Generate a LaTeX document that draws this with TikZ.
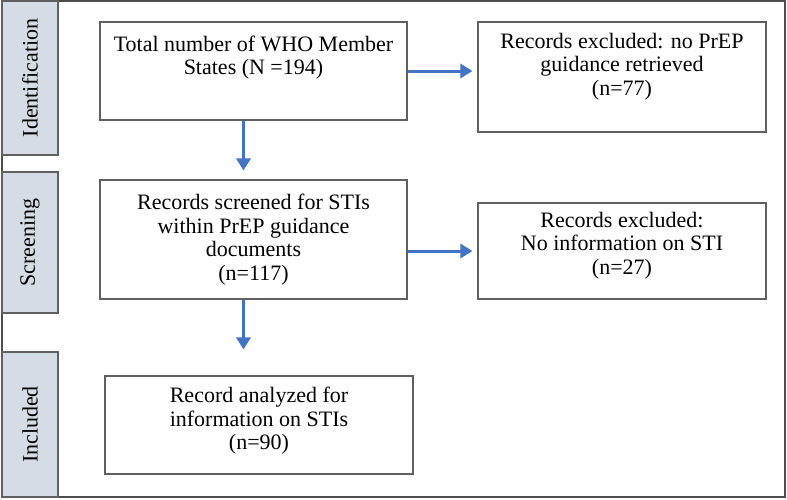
\documentclass[tikz,border=0pt]{standalone}
\usepackage{fontspec}
\setmainfont{Liberation Serif}
\usetikzlibrary{arrows.meta}
\definecolor{arrblue}{HTML}{4472C4}
\definecolor{sidefill}{HTML}{D6DCE5}
\definecolor{edgegray}{HTML}{606060}
\tikzset{
  box/.style={draw=edgegray, line width=1.1pt, align=center, inner sep=2pt,
    font=\fontsize{22}{23.5}\selectfont},
  phase/.style={draw=edgegray, fill=sidefill, line width=1.1pt, rotate=90,
    minimum height=56pt, inner sep=0pt, font=\fontsize{22}{23.5}\selectfont},
  arr/.style={arrblue, line width=3pt, -{Triangle[length=12pt,width=14pt]}}
}
\begin{document}
\begin{tikzpicture}[x=1pt,y=-1pt]
	\useasboundingbox (0,0) rectangle (787,499);
	\draw[edgegray!80!black, line width=2pt] (2,1) rectangle (785,497);
	% phases on the left
	\node[phase, minimum width=154pt] (ident) at (30,78) {Identification};
	\node[phase, minimum width=141pt] (screen) at (30,242.5) {Screening};
	\node[phase, minimum width=145pt] (incl) at (30,424.5) {Included};
	% boxes
	\node[box, minimum width=307pt, minimum height=98pt] (total) at (253.5,71)
		{Total number of WHO Member\\States (N =194)\\[8pt]\mbox{}};
	\node[box, minimum width=288pt, minimum height=110pt] (excl1) at (622,77)
		{Records excluded: no PrEP\\guidance retrieved\\(n=77)\\[2pt]\mbox{}};
	\node[box, minimum width=307pt, minimum height=119pt] (screened) at (253.5,239.5)
		{Records screened for STIs\\within PrEP guidance\\documents\\(n=117)};
	\node[box, minimum width=288pt, minimum height=96pt] (excl2) at (622,251)
		{Records excluded:\\No information on STI\\(n=27)\\[-8pt]\mbox{}};
	\node[box, minimum width=308pt, minimum height=98pt] (analyzed) at (259,425)
		{Record analyzed for\\information on STIs\\(n=90)\\[-10pt]\mbox{}};
	% arrows
	\draw[arr, shorten >=5pt] (total) -- (excl1.west |- total);
	\draw[arr, shorten >=5pt] (screened.east |- excl2) -- (excl2);
	\draw[arr, shorten >=9pt] ([xshift=-10pt]total.south) -- ([xshift=-10pt]total.south |- screened.north);
	\draw[arr, shorten >=26pt] ([xshift=-10pt]screened.south) -- ([xshift=-10pt]screened.south |- analyzed.north);
\end{tikzpicture}
\end{document}
